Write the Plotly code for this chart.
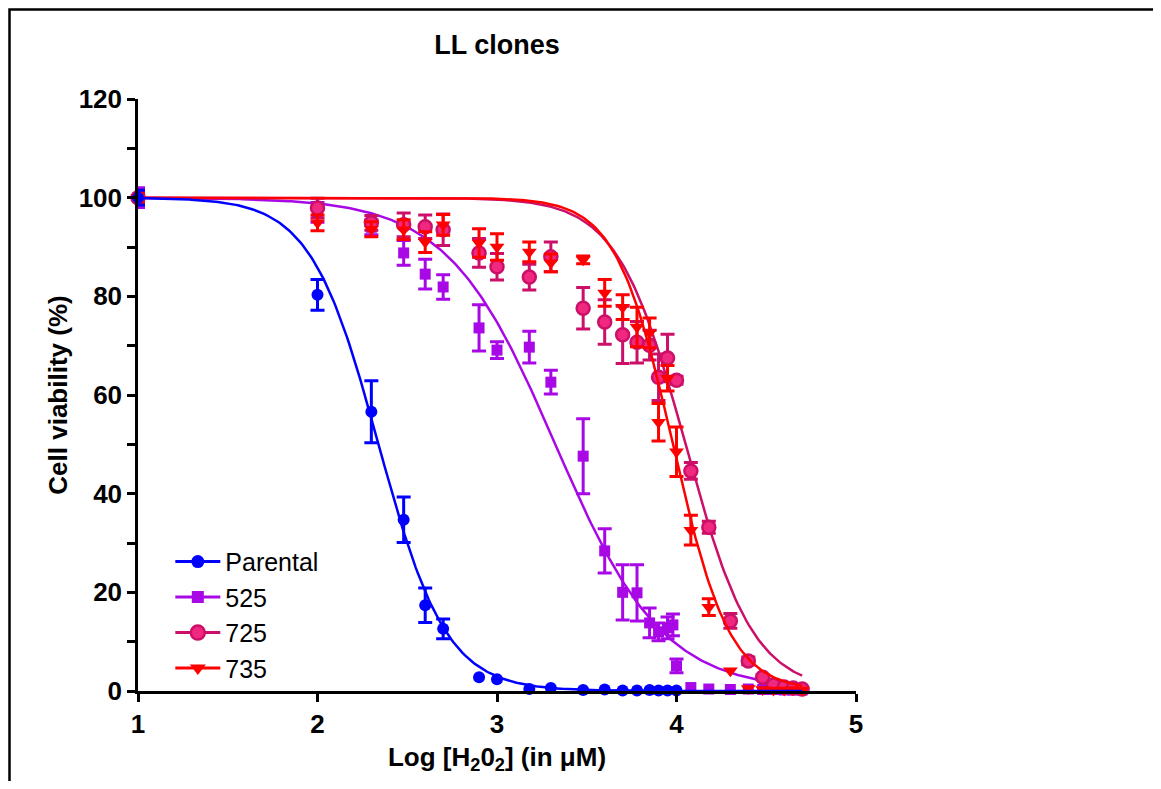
import numpy as np
import plotly.graph_objects as go

# Log [H2O2] (uM) and viability readings (%), mean +/- SEM
x_parental = [1, 2, 2.3, 2.48, 2.6, 2.7, 2.9, 3.0, 3.18, 3.3, 3.48, 3.6, 3.7, 3.78, 3.85, 3.9, 3.95, 4.0]
y_parental = [100, 80.3, 56.6, 34.7, 17.4, 12.6, 2.8, 2.4, 0.4, 0.6, 0.2, 0.3, 0.1, 0.1, 0.2, 0.1, 0.1, 0.1]
err_parental = [1.5, 3.1, 6.3, 4.6, 3.5, 2.0, 0, 0, 0, 0, 0, 0, 0, 0, 0, 0, 0, 0]

x_525 = [1, 2, 2.3, 2.48, 2.6, 2.7, 2.9, 3.0, 3.18, 3.3, 3.48, 3.6, 3.7, 3.78, 3.85, 3.9, 3.95, 3.98,
         4.0, 4.08, 4.18, 4.3, 4.4, 4.48, 4.54, 4.6, 4.65, 4.7]
y_525 = [100, 97.0, 94.0, 88.8, 84.5, 81.9, 73.6, 69.1, 69.7, 62.6, 47.6, 28.4, 20.0, 19.9, 13.8, 12.0, 12.8, 13.4,
         5.1, 0.7, 0.4, 0.3, 0.4, 0.3, 0.3, 0.2, 0.2, 0.2]
err_525 = [2.0, 2.0, 1.5, 2.5, 3.0, 2.5, 4.7, 1.7, 3.2, 2.4, 7.6, 4.5, 5.6, 5.7, 3.0, 1.8, 2.2, 2.2,
           1.4, 0, 0, 0, 0, 0, 0, 0, 0, 0]

x_725 = [1, 2, 2.3, 2.48, 2.6, 2.7, 2.9, 3.0, 3.18, 3.3, 3.48, 3.6, 3.7, 3.78, 3.85, 3.9, 3.95, 4.0,
         4.08, 4.18, 4.3, 4.4, 4.48, 4.54, 4.6, 4.65, 4.7]
y_725 = [100, 97.9, 94.9, 94.5, 94.1, 93.5, 88.8, 86.0, 83.9, 88.0, 77.6, 74.8, 72.2, 70.7, 70.1, 63.6, 67.5, 63.0,
         44.6, 33.2, 14.2, 6.1, 2.8, 1.2, 0.8, 0.6, 0.4]
err_725 = [1.0, 2.0, 1.5, 2.4, 2.4, 3.2, 2.9, 2.7, 2.6, 3.0, 4.2, 4.5, 5.8, 4.2, 3.0, 4.7, 4.8, 0.8,
           1.7, 1.2, 1.5, 0.8, 0.5, 0, 0, 0, 0]

x_735 = [1, 2, 2.3, 2.48, 2.6, 2.7, 2.9, 3.0, 3.18, 3.3, 3.48, 3.6, 3.7, 3.78, 3.85, 3.9, 3.95, 4.0,
         4.08, 4.18, 4.3, 4.4, 4.48, 4.54, 4.6, 4.65, 4.7]
y_735 = [100, 94.9, 93.6, 93.5, 91.0, 94.5, 90.8, 90.0, 89.0, 86.8, 87.4, 80.7, 77.8, 73.8, 72.6, 54.5, 63.4, 48.5,
         32.6, 17.0, 4.1, 0.5, 0.3, 0.2, 0.2, 0.3, 0.2]
err_735 = [1.0, 1.6, 1.5, 2.0, 2.1, 2.1, 2.9, 2.7, 2.0, 1.8, 0.8, 2.7, 2.5, 4.0, 3.0, 3.8, 2.6, 5.0,
           3.0, 1.7, 0, 0, 0, 0, 0, 0, 0]

# fitted dose-response curves (logIC50, hill slope), top 100 / bottom 0
fit_params = {"Parental": (2.34, 2.3), "525": (3.325, 1.45), "725": (4.05, 2.3), "735": (3.98, 2.75)}
fit_range = (1, 4.7)

font_family = "Arial, Liberation Sans, sans-serif"

# page body has an 8px margin, so the figure starts 8px into the window
W, H = 1145, 773
L, T = 130, 91
PW, PH = 718, 592


def dose_response(x, log_ic50, hill):
    return 100 / (1 + 10 ** ((x - log_ic50) * hill))


series = [
    # name, x, y, err, symbol, marker colour, marker outline, line colour, size
    ("Parental", x_parental, y_parental, err_parental, "circle", "#0000FF", "#0000FF", "#0000FF", 12),
    ("525", x_525, y_525, err_525, "square", "#A908E6", "#A908E6", "#A908E6", 11),
    ("725", x_725, y_725, err_725, "circle", "#F0287F", "#CC0F68", "#CC0F68", 13),
    ("735", x_735, y_735, err_735, "triangle-down", "#FF0000", "#FF0000", "#FF0000", 13),
]

fig = go.Figure()

# legend entries only
for name, xs, ys, errs, sym, col, outline, lcol, size in series:
    fig.add_trace(go.Scatter(x=[None], y=[None], mode="lines+markers", name=name,
                             line=dict(color=lcol, width=3),
                             marker=dict(symbol=sym, color=col, size=size + 1,
                                         line=dict(color=outline, width=2.5 if outline != col else 0))))

xfit = np.linspace(fit_range[0], fit_range[1], 300)
draw_order = [1, 2, 3, 0]
for k in draw_order:
    name, xs, ys, errs, sym, col, outline, lcol, size = series[k]
    ic50, hill = fit_params[name]
    fig.add_trace(go.Scatter(x=xfit, y=dose_response(xfit, ic50, hill), mode="lines",
                             line=dict(color=lcol, width=2.5), showlegend=False, hoverinfo="skip"))
    # error bars for points with a visible SEM
    idx = [i for i, e in enumerate(errs) if e > 0]
    fig.add_trace(go.Scatter(x=[xs[i] for i in idx], y=[ys[i] for i in idx], mode="markers",
                             marker=dict(size=1, opacity=0),
                             error_y=dict(type="data", array=[errs[i] for i in idx], color=outline,
                                          thickness=3, width=7),
                             showlegend=False, cliponaxis=False, hoverinfo="skip"))
    fig.add_trace(go.Scatter(x=xs, y=ys, mode="markers", name=name, showlegend=False, cliponaxis=False,
                             marker=dict(symbol=sym, color=col, size=size,
                                         line=dict(color=outline, width=2.5 if outline != col else 0))))

# frame around the whole panel
fig.add_shape(type="rect", xref="paper", yref="paper",
              x0=(1.5 - L) / PW, x1=1.6, y0=-0.25, y1=(T + PH - 1.5) / PH,
              line=dict(color="black", width=2.5), layer="below")

fig.update_layout(
    width=W, height=H,
    margin=dict(l=L, r=W - L - PW, t=T, b=H - T - PH),
    plot_bgcolor="white", paper_bgcolor="white",
    font=dict(family=font_family, color="black"),
    title=dict(text="LL clones", x=0.5, xref="paper", xanchor="center", y=1 - 37 / H, yanchor="middle",
               font=dict(size=27, weight="bold")),
    legend=dict(x=0.045, y=0.257, xanchor="left", yanchor="top", font=dict(size=25),
                bgcolor="rgba(0,0,0,0)", tracegroupgap=0, itemwidth=45),
    showlegend=True,
)

fig.update_xaxes(range=[1, 5], tickvals=[1, 2, 3, 4, 5], showgrid=False, zeroline=False,
                 showline=True, linecolor="black", linewidth=2.5, ticks="outside", ticklen=8,
                 tickwidth=2.5, tickcolor="black", tickfont=dict(size=26, weight="bold"),
                 title=dict(text="Log [H<sub>2</sub>0<sub>2</sub>] (in \u03bcM)", standoff=10,
                            font=dict(size=26, weight="bold")))
fig.update_yaxes(range=[0, 120], tickvals=[0, 20, 40, 60, 80, 100, 120], showgrid=False, zeroline=False,
                 showline=True, linecolor="black", linewidth=2.5, ticks="outside", ticklen=8,
                 tickwidth=2.5, tickcolor="black", tickfont=dict(size=26, weight="bold"),
                 minor=dict(tickvals=[10, 30, 50, 70, 90, 110], ticks="outside", ticklen=8,
                            tickwidth=2.5, tickcolor="black"),
                 title=dict(text="Cell viability (%)", standoff=4, font=dict(size=26, weight="bold")))

fig.write_html("out.html")
